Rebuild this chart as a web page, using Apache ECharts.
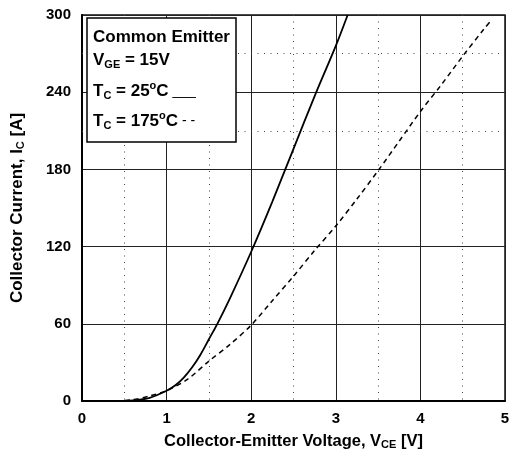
<!DOCTYPE html>
<html>
<head>
<meta charset="utf-8">
<script src="https://cdn.jsdelivr.net/npm/echarts@6/dist/echarts.min.js"></script>
<style>
  html, body { margin: 0; padding: 0; background: #ffffff; }
  #chart { width: 511px; height: 458px; }
</style>
</head>
<body>
<div id="chart"></div>
<script>
// Output characteristics, common emitter, VGE = 15 V
const vceTicks = [0, 1, 2, 3, 4, 5];
const icTicks = [0, 60, 120, 180, 240, 300];

// Tc = 25 °C
const vce25 = [0.40, 0.60, 0.80, 1.00, 1.10, 1.20, 1.30, 1.40, 1.50, 1.60, 1.75, 2.00, 2.25, 2.50, 2.75, 3.00, 3.14];
const ic25  = [0,    0.5,  2.5,  8,    12,   18,   26,   36,   48,   60,   80,   116,  155,  196,  237,  276,  300];

// Tc = 175 °C
const vce175 = [0.40, 0.60, 0.80, 1.00, 1.25, 1.50, 1.75, 2.00, 2.25, 2.50, 2.75, 3.00, 3.25, 3.50, 3.75, 4.00, 4.25, 4.50, 4.75, 4.84];
const ic175  = [0,    1,    4,    8,    17,   31,   44,   59,   78,   97,   117,  136,  157,  179,  202,  225,  246,  268,  289,  296];

// extra dotted current levels
const dottedLevels = [210, 270];

const FONT = '"Liberation Sans", Arial, Helvetica, sans-serif';

const pairs = (xs, ys) => xs.map((x, i) => [x, ys[i]]);

const chart = echarts.init(document.getElementById('chart'), null, { renderer: 'canvas' });

const mainTok = { fontFamily: FONT, fontWeight: 'bold', fontSize: 17, fill: '#000', lineHeight: 21, verticalAlign: 'middle' };
const subTok  = { fontFamily: FONT, fontWeight: 'bold', fontSize: 11, fill: '#000', lineHeight: 12, verticalAlign: 'bottom' };
const supTok  = { fontFamily: FONT, fontWeight: 'bold', fontSize: 11, fill: '#000', lineHeight: 11, verticalAlign: 'top' };
const keyTok  = { fontFamily: FONT, fontWeight: 'normal', fontSize: 14, fill: '#000', lineHeight: 21, verticalAlign: 'middle' };

function legendText(y, text) {
  return {
    type: 'text', x: 93, y: y, z: 101,
    style: {
      text: text,
      fontFamily: FONT, fontWeight: 'bold', fontSize: 17, fill: '#000',
      verticalAlign: 'middle', align: 'left',
      rich: { m: mainTok, s: subTok, p: supTok, k: keyTok }
    }
  };
}

const titleRich = { s: { fontFamily: FONT, fontWeight: 'bold', fontSize: 11, color: '#000', verticalAlign: 'bottom', lineHeight: 11 } };

const option = {
  backgroundColor: '#ffffff',
  animation: false,
  grid: {
    left: 82, right: 6, top: 15, bottom: 57,
    show: true, borderColor: '#111', borderWidth: 1.5,
    outerBoundsMode: 'none'
  },
  xAxis: {
    type: 'value', min: vceTicks[0], max: vceTicks[vceTicks.length - 1], interval: 1,
    name: 'Collector-Emitter Voltage, V{s|CE} [V]',
    nameLocation: 'middle', nameGap: 32,
    nameTextStyle: { fontFamily: FONT, fontWeight: 'bold', fontSize: 16.5, color: '#000', rich: titleRich },
    axisLine: { show: true, onZero: false, lineStyle: { color: '#000', width: 2 } },
    axisTick: { show: false },
    axisLabel: { margin: 10, fontFamily: FONT, fontWeight: 'bold', fontSize: 15, color: '#000' },
    splitLine: { show: true, lineStyle: { color: '#222', width: 1, type: 'solid' } },
    minorTick: { show: false, splitNumber: 2 },
    minorSplitLine: { show: true, lineStyle: { color: '#444', width: 1, type: [1, 5.5] } }
  },
  yAxis: {
    type: 'value', min: icTicks[0], max: icTicks[icTicks.length - 1], interval: 60,
    name: 'Collector Current, I{s|C} [A]',
    nameLocation: 'middle', nameGap: 56, nameRotate: 90,
    nameTextStyle: { fontFamily: FONT, fontWeight: 'bold', fontSize: 17, color: '#000', rich: titleRich },
    axisLine: { show: true, onZero: false, lineStyle: { color: '#000', width: 2 } },
    axisTick: { show: false },
    axisLabel: { margin: 11, fontFamily: FONT, fontWeight: 'bold', fontSize: 15, color: '#000' },
    splitLine: { show: true, lineStyle: { color: '#222', width: 1, type: 'solid' } }
  },
  series: [
    {
      name: 'Tc = 25°C', type: 'line', data: pairs(vce25, ic25),
      smooth: 0.3, showSymbol: false, clip: true,
      lineStyle: { color: '#000', width: 1.8, type: 'solid' },
      markLine: {
        silent: true, symbol: 'none', label: { show: false }, animation: false,
        lineStyle: { color: '#444', width: 1, type: [1, 5.5] },
        data: dottedLevels.map(v => ({ yAxis: v }))
      },
      z: 5
    },
    {
      name: 'Tc = 175°C', type: 'line', data: pairs(vce175, ic175),
      smooth: 0.3, showSymbol: false, clip: true,
      lineStyle: { color: '#000', width: 1.5, type: [5, 4] },
      z: 5
    }
  ],
  graphic: [
    {
      type: 'rect', z: 100,
      shape: { x: 87, y: 18, width: 149, height: 124 },
      style: { fill: '#ffffff', stroke: '#000', lineWidth: 1.5 }
    },
    legendText(37.5, '{m|Common Emitter}'),
    legendText(60, '{m|V}{s|GE}{m| = 15V}'),
    legendText(91, '{m|T}{s|C}{m| = 25}{p|o}{m|C}{k| ___}'),
    legendText(121, '{m|T}{s|C}{m| = 175}{p|o}{m|C}{k| - -}')
  ]
};

chart.setOption(option);
</script>
</body>
</html>
